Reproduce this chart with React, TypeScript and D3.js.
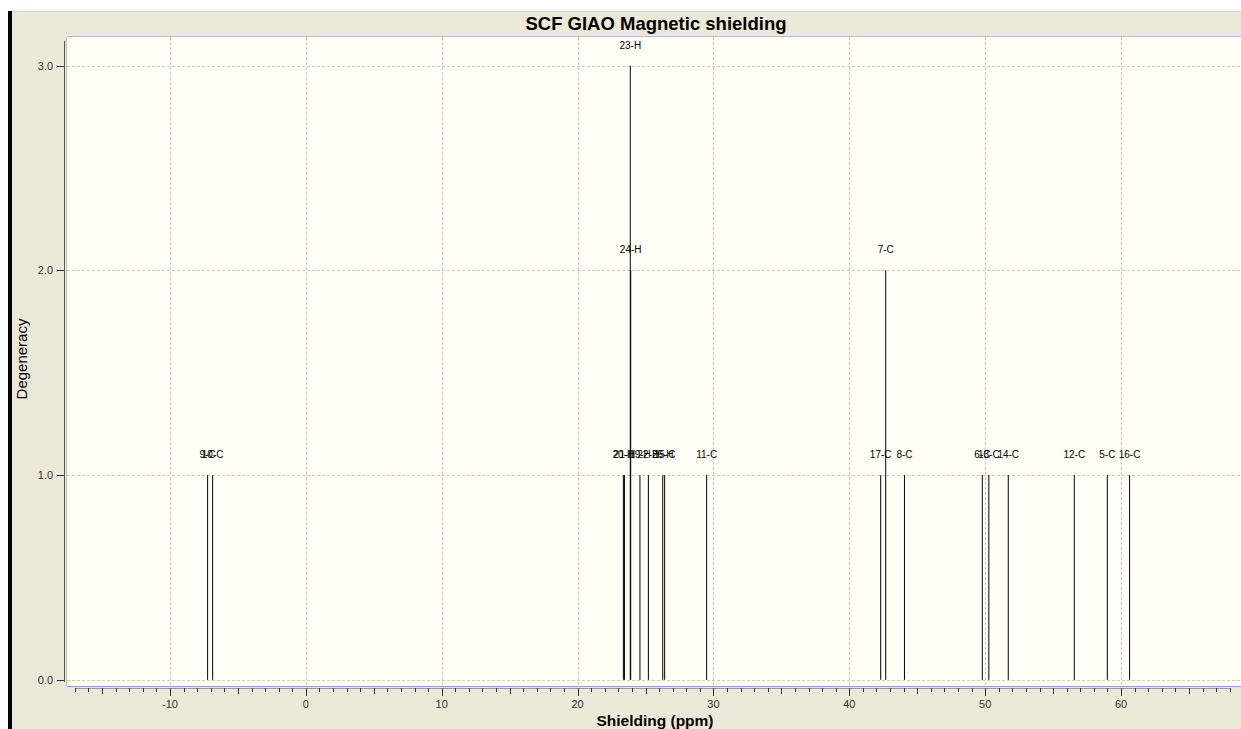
import React from "react";
import * as d3 from "d3";

const peakLabels = ["9-C", "10-C", "20-H", "21-H", "23-H", "24-H", "19-H", "22-H", "26-H", "15-C", "11-C", "17-C", "7-C", "8-C", "6-C", "13-C", "14-C", "12-C", "5-C", "16-C"];
const peakShielding = [-7.23, -6.86, 23.37, 23.45, 23.88, 23.91, 24.59, 25.21, 26.27, 26.41, 29.5, 42.31, 42.68, 44.06, 49.79, 50.27, 51.7, 56.56, 58.99, 60.63];
const peakDegeneracy = [1, 1, 1, 1, 3, 2, 1, 1, 1, 1, 1, 1, 2, 1, 1, 1, 1, 1, 1, 1];

const xTickLabels = [-10, 0, 10, 20, 30, 40, 50, 60];
const yTickLabels = [0, 1, 2, 3];

const W = 1241;
const H = 729;
const plotL = 67;
const plotR = 1241;
const plotT = 37;
const plotB = 686;

const FONT = "'Liberation Sans', Arial, sans-serif";

export default function App() {
  const x = d3.scaleLinear().domain([-17.58, 68.83]).range([plotL, plotR]);
  const y = d3.scaleLinear().domain([-0.03, 3.14]).range([plotB, plotT]);
  const minorTicks = d3.range(-17, 69, 1);

  const peaks = peakLabels.map((label, i) => ({
    label,
    v: peakShielding[i],
    d: peakDegeneracy[i],
  }));

  return (
    <svg
      width={W}
      height={H}
      style={{ position: "absolute", left: 0, top: 0, background: "#ffffff" }}
      fontFamily={FONT}
    >
      {/* frame background */}
      <rect x={12} y={11} width={W - 12} height={H - 11} fill="#ECE9D8" />
      <line x1={12} x2={W} y1={11.5} y2={11.5} stroke="#D8D4C4" />
      <rect x={8} y={11} width={4} height={H - 11} fill="#000" />

      {/* title */}
      <text x={656} y={30} textAnchor="middle" fontSize={18.5} fontWeight="bold" fill="#000">
        SCF GIAO Magnetic shielding
      </text>

      {/* plot area */}
      <rect x={plotL} y={plotT} width={plotR - plotL} height={plotB - plotT} fill="#FFFFF5" />
      <line x1={plotL} x2={plotR} y1={plotT - 0.5} y2={plotT - 0.5} stroke="#B4C0CC" />
      <line x1={plotL - 0.5} x2={plotL - 0.5} y1={plotT} y2={plotB} stroke="#B4C0CC" />

      {/* grid */}
      {xTickLabels.map((t) => (
        <line
          key={"gx" + t}
          x1={Math.round(x(t)) + 0.5}
          x2={Math.round(x(t)) + 0.5}
          y1={plotT}
          y2={plotB}
          stroke="#C8C8C8"
          strokeDasharray="3,2"
        />
      ))}
      {yTickLabels.map((t) => (
        <line
          key={"gy" + t}
          x1={plotL}
          x2={plotR}
          y1={Math.round(y(t)) + 0.5}
          y2={Math.round(y(t)) + 0.5}
          stroke="#C8C8C8"
          strokeDasharray="3,2"
        />
      ))}

      {/* sticks */}
      {peaks.map((p, i) => (
        <line
          key={"p" + i}
          x1={x(p.v)}
          x2={x(p.v)}
          y1={y(0)}
          y2={y(p.d)}
          stroke="#000"
          strokeWidth={1}
        />
      ))}
      {peaks.map((p, i) => (
        <text
          key={"pl" + i}
          x={x(p.v)}
          y={y(p.d) - 17}
          textAnchor="middle"
          fontSize={10}
          fill="#000"
        >
          {p.label}
        </text>
      ))}

      {/* x axis */}
      <line x1={plotL} x2={plotR} y1={plotB + 0.5} y2={plotB + 0.5} stroke="#8AA4C4" />
      <line x1={x(-17)} x2={x(68)} y1={688.5} y2={688.5} stroke="#9A9A9A" />
      {minorTicks.map((t) => {
        const len = t % 10 === 0 ? 8 : t % 5 === 0 ? 6 : 4;
        const px = Math.round(x(t)) + 0.5;
        return <line key={"t" + t} x1={px} x2={px} y1={688} y2={688 + len} stroke="#333" />;
      })}
      {xTickLabels.map((t) => (
        <text key={"xl" + t} x={x(t)} y={708} textAnchor="middle" fontSize={11} fill="#333">
          {t}
        </text>
      ))}
      <text x={655} y={726} textAnchor="middle" fontSize={15.5} fontWeight="bold" fill="#000">
        Shielding (ppm)
      </text>

      {/* y axis */}
      <line x1={64.5} x2={64.5} y1={41} y2={682} stroke="#555" />
      {yTickLabels.map((t) => (
        <g key={"yt" + t}>
          <line x1={57} x2={64} y1={Math.round(y(t)) + 0.5} y2={Math.round(y(t)) + 0.5} stroke="#333" />
          <text x={53} y={y(t) + 4} textAnchor="end" fontSize={11} fill="#333">
            {t.toFixed(1)}
          </text>
        </g>
      ))}
      <text
        transform={`translate(27,359) rotate(-90)`}
        textAnchor="middle"
        fontSize={15}
        fill="#000"
      >
        Degeneracy
      </text>
    </svg>
  );
}
